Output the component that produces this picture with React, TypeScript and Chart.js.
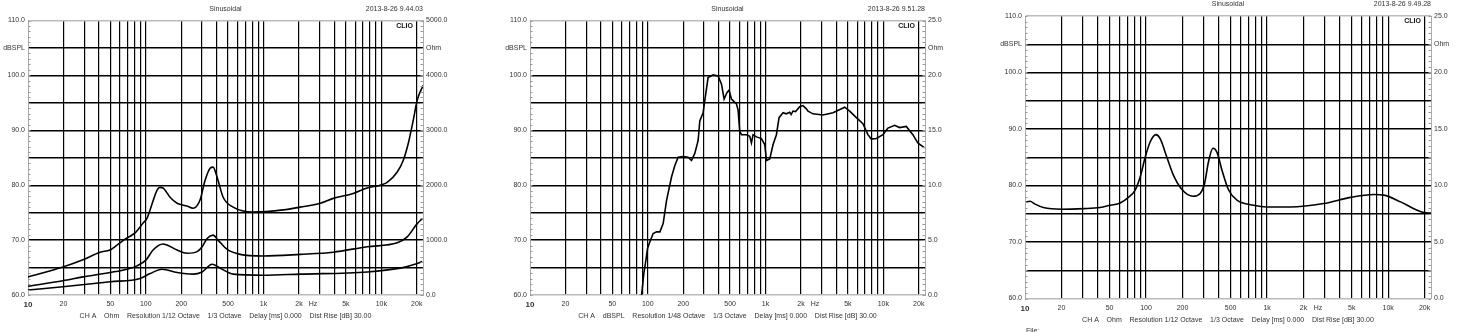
import React, { useEffect, useRef } from 'react';
import { Chart, registerables } from 'chart.js';

Chart.register(...registerables);

// ---- shared axis data ----
const gridFreqs = [20, 30, 40, 50, 60, 70, 80, 90, 100, 200, 300, 400, 500, 600, 700, 800, 900, 1000, 2000, 3000, 4000, 5000, 6000, 7000, 8000, 9000, 10000, 20000];
const xLabelFreqs = [10, 20, 50, 100, 200, 500, 1000, 2000, 2630, 5000, 10000, 20000];
const xLabelTexts = ['10', '20', '50', '100', '200', '500', '1k', '2k', 'Hz', '5k', '10k', '20k'];
const freqMin = 10;
const freqMax = 22600;
const dbMin = 60;
const dbMax = 110;

// ---- chart 1 : impedance curves ----
const imp1Freq = [10, 19.8, 29.3, 40.9, 49.7, 57, 69.3, 81, 94.9, 102.6, 108.8, 124.8, 132, 140, 160.8, 184.5, 224, 252, 289, 319, 352, 373, 403, 454, 552, 816, 1467, 2046, 3027, 3900, 5770, 7586, 9790, 11220, 13650, 15350, 16940, 18670, 20180, 22700];
const imp1Level = [63.3, 65.1, 66.4, 67.8, 68.2, 69.1, 70.4, 71.3, 73.1, 74.0, 75.5, 79.1, 79.6, 79.5, 77.8, 76.7, 76.2, 75.8, 77.3, 80.9, 83.1, 83.3, 81.5, 77.8, 76.0, 75.1, 75.5, 76.0, 76.7, 77.6, 78.5, 79.5, 80.0, 80.5, 82.4, 84.5, 87.6, 91.8, 95.5, 98.2];
const imp2Freq = [10, 19.8, 29.3, 49.7, 69.3, 84.3, 100.7, 115.3, 140, 151.7, 184.5, 224, 272.9, 300.9, 331.9, 373, 411, 490.6, 632, 993, 2046, 3900, 7586, 13650, 16600, 20180, 22280];
const imp2Level = [61.6, 62.6, 63.3, 64.1, 64.7, 65.3, 66.4, 68.2, 69.3, 69.1, 68.2, 67.6, 67.9, 68.8, 70.3, 70.9, 70.0, 68.3, 67.4, 67.1, 67.4, 67.8, 68.8, 69.5, 70.6, 73.0, 73.9];
const imp3Freq = [10, 19.8, 49.7, 89.5, 108.8, 137.5, 184.5, 252, 300.9, 365.8, 427.6, 552, 993, 2046, 7586, 14490, 18670, 22280];
const imp3Level = [60.9, 61.5, 62.4, 63.0, 63.9, 64.7, 64.1, 63.8, 64.2, 65.6, 64.9, 63.8, 63.6, 63.8, 64.2, 64.9, 65.5, 66.1];

// ---- chart 2 : SPL response ----
const splFreq = [88.6, 92.7, 96.4, 99.6, 104.2, 111.1, 118.8, 126.7, 135.1, 144.3, 159.1, 169.8, 181.1, 199.6, 220.1, 235.1, 250.8, 267.5, 276.6, 295.1, 304.9, 325.3, 358.6, 395.6, 422.7, 444.8, 471.2, 490, 513.5, 530, 566.7, 584.6, 604, 625, 689, 735, 759, 784, 838, 923, 985, 1018, 1086, 1159, 1237, 1303, 1407, 1500, 1603, 1650, 1711, 1800, 1950, 2080, 2200, 2295, 2530, 3076, 3743, 4702, 5180, 5904, 6716, 7400, 7907, 8724, 9931, 10950, 12480, 13740, 15670, 17830, 19640, 22390];
const splLevel = [60, 64, 66.3, 68.5, 69.7, 71.2, 71.5, 71.5, 73, 77.2, 81.5, 83.6, 85.1, 85.2, 85.1, 84.5, 85.8, 88.1, 91.7, 93.2, 95.4, 99.6, 100.1, 99.9, 98.4, 95.7, 96.9, 97.3, 95.7, 95.4, 94.8, 93.7, 89.8, 89.2, 89.2, 88.9, 87.7, 89.2, 88.8, 88.5, 87.4, 84.5, 84.8, 87.4, 89.2, 92.3, 93.2, 93.0, 93.3, 92.9, 93.5, 93.4, 94.3, 94.5, 94.0, 93.5, 93.0, 92.8, 93.2, 94.2, 93.5, 92.3, 91.2, 89.2, 88.4, 88.5, 89.2, 90.4, 90.9, 90.5, 90.7, 89.2, 87.7, 86.8];

// ---- chart 3 : impedance ----
const zoFreq = [10.2, 11, 12.1, 14.2, 20.1, 30.4, 41.7, 50.5, 61.1, 71.5, 81.3, 89.4, 98.4, 108.1, 120.5, 130.8, 148.6, 168.6, 197.9, 243.9, 280, 304, 328, 357, 385, 424, 481, 564, 773, 998, 1556, 2933, 4875, 7603, 9204, 12650, 17380, 19720, 22690];
const zoLevel = [77.08, 77.2, 76.7, 76.1, 75.8, 75.9, 76.1, 76.5, 76.9, 77.9, 79.2, 81.5, 85.0, 87.7, 89.0, 88.3, 85.0, 81.8, 79.3, 78.1, 78.6, 80.3, 84.2, 86.6, 85.9, 82.7, 79.2, 77.4, 76.5, 76.2, 76.2, 76.8, 77.9, 78.4, 78.3, 77.1, 75.6, 75.2, 75.1];

const FONT = '"Liberation Sans", Arial, Helvetica, sans-serif';
Chart.defaults.font.family = FONT;

const clioDecor = {
  id: 'clioDecor',
  afterDraw(chart: any, _args: any, opts: any) {
    const { ctx, chartArea } = chart;
    const { left, right, top, bottom } = chartArea;
    const y = chart.scales.y;
    ctx.save();
    ctx.strokeStyle = '#999';
    ctx.lineWidth = 1;
    ctx.beginPath();
    for (let v = dbMin; v <= dbMax; v += 1) {
      const py = Math.round(y.getPixelForValue(v)) + 0.5;
      ctx.moveTo(left, py);
      ctx.lineTo(left + 2.5, py);
      ctx.moveTo(right - 2.5, py);
      ctx.lineTo(right, py);
    }
    ctx.stroke();
    ctx.fillStyle = '#333';
    ctx.font = '7px ' + FONT;
    ctx.textBaseline = 'middle';
    ctx.textAlign = 'center';
    ctx.fillText(opts.title, (left + right) / 2, top - 11.5);
    ctx.textAlign = 'right';
    ctx.fillText(opts.date, right, top - 11.5);
    ctx.textAlign = 'center';
    ctx.fillText(opts.footer, (left + right) / 2, bottom + 21.5);
    if (opts.file) {
      ctx.textAlign = 'left';
      ctx.textBaseline = 'top';
      ctx.fillText(opts.file, left + 1, bottom + 29);
    }
    ctx.fillStyle = '#111';
    ctx.font = 'bold 7px ' + FONT;
    ctx.textAlign = 'right';
    ctx.textBaseline = 'middle';
    ctx.fillText('CLIO', right - 10, top + 5.5);
    ctx.restore();
  },
};

type Series = { freqs: number[]; levels: number[] };
type Spec = {
  canvasLeft: number; canvasWidth: number;
  plotLeft: number; plotRight: number; plotTop: number; plotBottom: number;
  ohmMax: number; smooth: boolean; series: Series[];
  title: string; date: string; footer: string; file?: string;
};

const specs: Spec[] = [
  {
    canvasLeft: 0, canvasWidth: 480, plotLeft: 28, plotRight: 423, plotTop: 20.5, plotBottom: 295,
    ohmMax: 5000, smooth: true,
    series: [{ freqs: imp1Freq, levels: imp1Level }, { freqs: imp2Freq, levels: imp2Level }, { freqs: imp3Freq, levels: imp3Level }],
    title: 'Sinusoidal', date: '2013-8-26 9.44.03',
    footer: 'CH A    Ohm    Resolution 1/12 Octave    1/3 Octave    Delay [ms] 0.000    Dist Rise [dB] 30.00',
  },
  {
    canvasLeft: 482, canvasWidth: 498, plotLeft: 530, plotRight: 925, plotTop: 20.5, plotBottom: 295,
    ohmMax: 25, smooth: false,
    series: [{ freqs: splFreq, levels: splLevel }],
    title: 'Sinusoidal', date: '2013-8-26 9.51.28',
    footer: 'CH A    dBSPL    Resolution 1/48 Octave    1/3 Octave    Delay [ms] 0.000    Dist Rise [dB] 30.00',
  },
  {
    canvasLeft: 985, canvasWidth: 472, plotLeft: 1025, plotRight: 1431, plotTop: 16, plotBottom: 298.5,
    ohmMax: 25, smooth: true,
    series: [{ freqs: zoFreq, levels: zoLevel }],
    title: 'Sinusoidal', date: '2013-8-26 9.49.28',
    footer: 'CH A    Ohm    Resolution 1/12 Octave    1/3 Octave    Delay [ms] 0.000    Dist Rise [dB] 30.00',
    file: 'File:',
  },
];

function ClioChart({ spec }: { spec: Spec }) {
  const ref = useRef<HTMLCanvasElement>(null);
  useEffect(() => {
    const ohmMax = spec.ohmMax;
    const chart = new Chart(ref.current as HTMLCanvasElement, {
      type: 'line',
      data: {
        datasets: spec.series.map((s) => ({
          data: s.freqs.map((f, i) => ({ x: f, y: s.levels[i] })),
          borderColor: '#000',
          borderWidth: 1.6,
          pointRadius: 0,
          fill: false,
          tension: spec.smooth ? 0.4 : 0,
          cubicInterpolationMode: spec.smooth ? 'monotone' : 'default',
          xAxisID: 'x',
          yAxisID: 'y',
        })),
      },
      options: {
        responsive: false,
        animation: false,
        events: [],
        layout: { padding: { top: spec.plotTop, left: 0, right: 0, bottom: 0 }, autoPadding: false },
        plugins: {
          legend: { display: false },
          tooltip: { enabled: false },
          clioDecor: { title: spec.title, date: spec.date, footer: spec.footer, file: spec.file },
        } as any,
        scales: {
          x: {
            type: 'logarithmic', position: 'bottom', min: freqMin, max: freqMax,
            afterBuildTicks: (s: any) => { s.ticks = gridFreqs.map((v) => ({ value: v })); },
            ticks: { display: false },
            grid: { color: '#000', lineWidth: 1.2, drawTicks: false },
            border: { display: false },
            afterFit: (s: any) => { s.height = 0; },
          },
          xl: {
            type: 'logarithmic', position: 'bottom', min: freqMin, max: freqMax,
            afterBuildTicks: (s: any) => { s.ticks = xLabelFreqs.map((v) => ({ value: v })); },
            ticks: {
              autoSkip: false, maxRotation: 0, minRotation: 0, padding: 5, color: '#333',
              font: (c: any) => (c.index === 0 ? { size: 8, weight: 'bold' } : { size: 7 }),
              callback: (_v: any, i: number) => xLabelTexts[i],
            },
            grid: { display: false, drawTicks: false },
            border: { display: false },
            afterFit: (s: any) => { s.height = 332 - spec.plotBottom; },
          },
          y: {
            type: 'linear', position: 'left', min: dbMin, max: dbMax,
            ticks: {
              stepSize: 5, padding: 3, color: '#333', font: { size: 7 },
              callback: (v: any) => (v === 105 ? 'dBSPL' : v % 10 === 0 ? Number(v).toFixed(1) : ''),
            },
            grid: {
              color: (c: any) => (c.tick && (c.tick.value === dbMin || c.tick.value === dbMax) ? '#bbb' : '#000'),
              lineWidth: 1.4, drawTicks: false,
            },
            border: { color: '#aaa' },
            afterFit: (s: any) => { s.width = spec.plotLeft - spec.canvasLeft; },
          },
          y2: {
            type: 'linear', position: 'right', min: 0, max: ohmMax,
            ticks: {
              stepSize: ohmMax / 10, padding: 3, color: '#333', font: { size: 7 },
              callback: (v: any) => {
                const n = Number(v);
                if (Math.abs(n - ohmMax * 0.9) < 1e-6) return 'Ohm';
                const q = n / (ohmMax / 5);
                return Math.abs(q - Math.round(q)) < 1e-6 ? n.toFixed(1) : '';
              },
            },
            grid: { drawOnChartArea: false, drawTicks: false },
            border: { color: '#aaa' },
            afterFit: (s: any) => { s.width = spec.canvasLeft + spec.canvasWidth - spec.plotRight; },
          },
        } as any,
      },
      plugins: [clioDecor],
    } as any);
    return () => chart.destroy();
  }, []);
  return (
    <canvas
      ref={ref}
      width={spec.canvasWidth}
      height={332}
      style={{ position: 'absolute', left: spec.canvasLeft, top: 0, width: spec.canvasWidth, height: 332 }}
    />
  );
}

export default function App() {
  return (
    <div style={{ position: 'absolute', left: 0, top: 0, width: 1457, height: 332, background: '#fff', overflow: 'hidden' }}>
      {specs.map((s, i) => (
        <ClioChart key={i} spec={s} />
      ))}
    </div>
  );
}
